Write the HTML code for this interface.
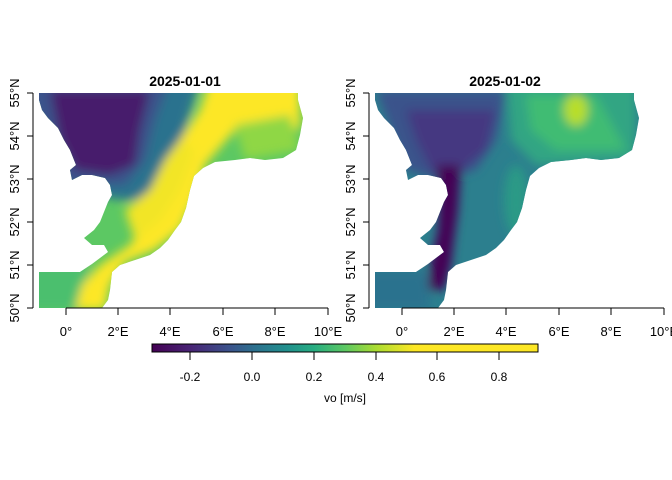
<!DOCTYPE html>
<html><head><style>
body{margin:0;background:#fff}
svg{display:block;font-family:"Liberation Sans",Arial,sans-serif}
</style></head><body>
<svg width="672" height="480" viewBox="0 0 672 480" xmlns="http://www.w3.org/2000/svg">
<defs>
<path id="sea" d="M39,93 L298,93 L298,100 L303,118 L300,135 L296,150 L283,158 L265,160 L250,158 L235,160 L215,162 L203,168 L194,176 L190,190 L186,208 L181,222 L175,230 L168,240 L160,248 L150,255 L135,260 L120,265 L112,272 L110,290 L108,300 L102,308 L39,308 L39,272 L80,272 L92,264 L100,258 L108,252 L104,245 L92,245 L84,238 L94,230 L100,222 L104,212 L108,202 L112,195 L110,185 L105,178 L92,175 L82,175 L72,180 L70,170 L76,165 L70,150 L64,140 L58,128 L48,118 L42,110 L39,100 Z"/>
<clipPath id="c1"><use href="#sea"/></clipPath>
<filter id="b" x="-50%" y="-50%" width="200%" height="200%"><feGaussianBlur stdDeviation="5"/></filter>
<linearGradient id="vir" x1="0" x2="1">
<stop offset="0" stop-color="#440154"/><stop offset="0.1" stop-color="#482475"/>
<stop offset="0.2" stop-color="#3b528b"/><stop offset="0.27" stop-color="#2c728e"/>
<stop offset="0.35" stop-color="#21908d"/><stop offset="0.42" stop-color="#27ad81"/>
<stop offset="0.5" stop-color="#5cc863"/><stop offset="0.58" stop-color="#aadc32"/>
<stop offset="0.68" stop-color="#fde725"/><stop offset="1" stop-color="#fde725"/>
</linearGradient>
</defs>

<!-- Left panel -->
<g clip-path="url(#c1)">
<rect x="30" y="90" width="280" height="220" fill="#5cc863"/>
<g filter="url(#b)">
<polygon points="20,80 200,80 185,130 170,170 150,200 120,200 60,190 20,190" fill="#2c728e"/>
<polygon points="20,80 170,80 155,120 145,160 125,185 60,185 20,150" fill="#3b528b"/>
<polygon points="50,90 150,90 140,130 135,165 110,175 75,170 60,140" fill="#461a6c"/>
<polygon points="20,265 90,265 80,310 20,310" fill="#4cbf6e"/>
<polygon points="210,80 300,80 300,130 270,120 235,130 205,165 195,200 180,230 155,250 125,262 110,285 105,310 75,310 82,285 100,265 130,245 150,215 165,175 180,140 200,110" fill="#fde725"/>
<polygon points="235,125 290,115 300,150 245,160" fill="#8fd744"/>
<polygon points="125,210 150,190 165,160 180,140 195,150 180,190 160,220 135,240" fill="#f2e527"/>
</g>
</g>
<g transform="translate(336,0)">
<g clip-path="url(#c1)">
<rect x="30" y="90" width="280" height="220" fill="#2c7f8e"/>
<g filter="url(#b)">
<polygon points="170,80 300,80 300,160 200,165 175,140" fill="#30a583"/>
<polygon points="190,95 260,95 290,150 220,150 195,130" fill="#3fbc73"/>
<ellipse cx="240" cy="110" rx="12" ry="16" fill="#b8de2c"/>
<polygon points="40,90 170,90 160,140 140,170 100,180 70,170 55,130" fill="#3b528b"/>
<polygon points="70,110 160,110 150,150 125,170 95,170 80,140" fill="#453781"/>
<polygon points="100,165 125,165 122,210 118,240 115,265 108,290 92,290 95,260 102,230 103,200" fill="#440154"/>
<polygon points="20,270 90,270 95,310 20,310" fill="#2c728e"/>
<ellipse cx="180" cy="200" rx="12" ry="35" fill="#2a9a86"/>
</g>
</g>
</g>

<!-- axes -->
<g stroke="#000" stroke-width="1" fill="none">
<path d="M33,93 V308 M27,93 H33 M27,136 H33 M27,179 H33 M27,222 H33 M27,265 H33 M27,308 H33"/>
<path d="M66,308 H328 M66,308 V315 M118,308 V315 M170,308 V315 M223,308 V315 M275,308 V315 M328,308 V315"/>
<g transform="translate(336,0)">
<path d="M33,93 V308 M27,93 H33 M27,136 H33 M27,179 H33 M27,222 H33 M27,265 H33 M27,308 H33"/>
<path d="M66,308 H328 M66,308 V315 M118,308 V315 M170,308 V315 M223,308 V315 M275,308 V315 M328,308 V315"/>
</g>
</g>
<g font-size="13" fill="#000">
<text x="185" y="86" font-weight="bold" font-size="14" text-anchor="middle">2025-01-01</text>
<text x="505" y="86" font-weight="bold" font-size="14" text-anchor="middle">2025-01-02</text>
<g text-anchor="middle">
<text x="66" y="336">0°</text><text x="118" y="336">2°E</text><text x="170" y="336">4°E</text><text x="223" y="336">6°E</text><text x="275" y="336">8°E</text><text x="328" y="336">10°E</text>
<text x="402" y="336">0°</text><text x="454" y="336">2°E</text><text x="506" y="336">4°E</text><text x="559" y="336">6°E</text><text x="611" y="336">8°E</text><text x="664" y="336">10°E</text>
</g>
<g text-anchor="middle">
<text transform="translate(19,93) rotate(-90)">55°N</text><text transform="translate(19,136) rotate(-90)">54°N</text><text transform="translate(19,179) rotate(-90)">53°N</text><text transform="translate(19,222) rotate(-90)">52°N</text><text transform="translate(19,265) rotate(-90)">51°N</text><text transform="translate(19,308) rotate(-90)">50°N</text>
<text transform="translate(355,93) rotate(-90)">55°N</text><text transform="translate(355,136) rotate(-90)">54°N</text><text transform="translate(355,179) rotate(-90)">53°N</text><text transform="translate(355,222) rotate(-90)">52°N</text><text transform="translate(355,265) rotate(-90)">51°N</text><text transform="translate(355,308) rotate(-90)">50°N</text>
</g>
</g>

<!-- colorbar -->
<rect x="152" y="344" width="386" height="8" fill="url(#vir)" stroke="#000" stroke-width="1"/>
<path d="M190,352 V360 M252,352 V360 M314,352 V360 M376,352 V360 M437,352 V360 M499,352 V360" stroke="#000"/>
<g font-size="12" text-anchor="middle">
<text x="190" y="381">-0.2</text><text x="252" y="381">0.0</text><text x="314" y="381">0.2</text><text x="376" y="381">0.4</text><text x="437" y="381">0.6</text><text x="499" y="381">0.8</text>
<text x="345" y="402">vo [m/s]</text>
</g>
</svg>
</body></html>
